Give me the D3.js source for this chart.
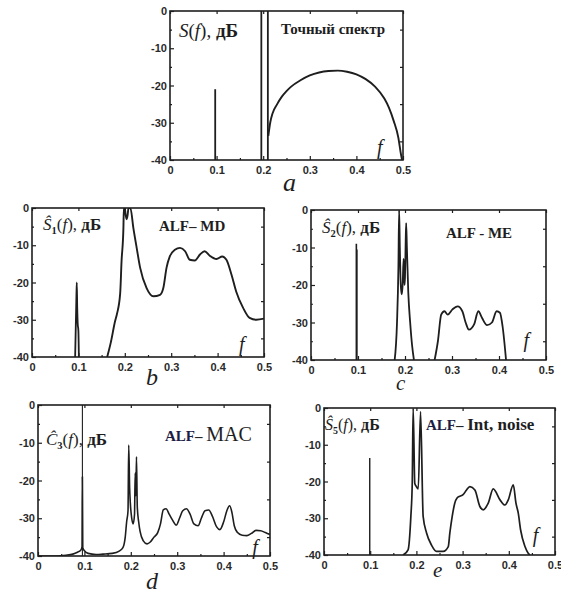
<!DOCTYPE html>
<html>
<head>
<meta charset="utf-8">
<script src="https://cdn.jsdelivr.net/npm/d3@7/dist/d3.min.js"></script>
<style>
  html, body { margin: 0; padding: 0; background: #fff; }
  svg { display: block; }
</style>
</head>
<body>
<svg id="chart" width="561" height="593"></svg>
<script>
// ---- shared axis values ----
const xTicks = [0, 0.1, 0.2, 0.3, 0.4, 0.5];
const xTickLabels = ["0", "0.1", "0.2", "0.3", "0.4", "0.5"];
const yTicks = [0, -10, -20, -30, -40];
const yTickLabels = ["0", "-10", "-20", "-30", "-40"];

// ---- a: exact spectrum ----
const aSpikes = [[0.097, -21], [0.196, 0], [0.21, 0]];           // [f, dB top]
const aCurve = [[0.211, -33.5], [0.215, -30], [0.22, -27.5], [0.23, -25], [0.24, -23],
  [0.25, -21.5], [0.26, -20.3], [0.28, -18.6], [0.30, -17.3], [0.32, -16.5], [0.34, -16.1],
  [0.36, -16], [0.38, -16.3], [0.40, -17], [0.42, -18.3], [0.44, -20.3], [0.46, -23.5],
  [0.47, -26], [0.48, -29.5], [0.49, -34], [0.495, -38], [0.498, -40]];

// ---- b: ALF-MD ----
const bCurve = [[0.093, -40], [0.0955, -25], [0.0965, -20], [0.0975, -27], [0.0985, -31],
  [0.1, -33], [0.101, -40]];
const bCurve2 = [[0.162, -40], [0.17, -36], [0.179, -30.4], [0.183, -28.5], [0.19, -23],
  [0.193, -14.3], [0.197, -5.4], [0.198, 0], [0.2, 0], [0.202, -2], [0.204, -3], [0.206, -2],
  [0.208, 0], [0.212, 0], [0.2185, -5.4], [0.2256, -10.7], [0.233, -16], [0.247, -21.5],
  [0.2615, -23.7], [0.276, -23.3], [0.283, -21.5], [0.29, -16], [0.297, -13], [0.308, -11.2],
  [0.319, -10.7], [0.33, -11.6], [0.34, -13.9], [0.351, -14.1], [0.362, -12.5], [0.372, -11.6],
  [0.383, -12.8], [0.3976, -13.7], [0.41, -13], [0.419, -13.9], [0.43, -17.9], [0.44, -22.4],
  [0.455, -26.8], [0.469, -29.5], [0.4835, -30], [0.5, -29.7]];

// ---- c: ALF-ME ----
const cSpikes = [[0.0965, -9], [0.0975, -10.5]];
const cCurve = [[0.178, -40], [0.183, -30], [0.186, -15], [0.1875, 0], [0.189, -10],
  [0.191, -20], [0.193, -22.5], [0.195, -20], [0.197, -13], [0.199, -20], [0.2, -18],
  [0.2015, -8], [0.2025, -3.5], [0.204, -10], [0.207, -22], [0.211, -30], [0.215, -36],
  [0.219, -40]];
const cCurve2 = [[0.263, -40], [0.27, -35], [0.277, -27.9], [0.284, -27], [0.291, -27.9],
  [0.301, -26.5], [0.312, -25.7], [0.322, -27], [0.329, -30], [0.336, -31.9], [0.347, -30.5],
  [0.356, -27], [0.364, -28.8], [0.3745, -30.7], [0.385, -30], [0.395, -27], [0.402, -27.4],
  [0.408, -31.4], [0.415, -40]];

// ---- d: ALF-MAC ----
const dSpikes = [[0.0957, 0]];
const dCurve = [[0.0, -40], [0.04, -40], [0.06, -39.8], [0.075, -39.5], [0.085, -39],
  [0.092, -38.5], [0.095, -37.5], [0.0957, -19], [0.0965, -37.8], [0.1, -38.6], [0.108, -39.3],
  [0.125, -39.6], [0.14, -39.5], [0.16, -39.3], [0.175, -38.7], [0.183, -37.8], [0.188, -35],
  [0.191, -31], [0.194, -28], [0.1955, -10.6], [0.1975, -22], [0.199, -26], [0.202, -30],
  [0.205, -31.5], [0.208, -29], [0.2095, -18], [0.211, -24], [0.2122, -13.7], [0.214, -27],
  [0.217, -31], [0.22, -33.5], [0.227, -36], [0.235, -36.8], [0.242, -36.3], [0.25, -35],
  [0.258, -33.8], [0.264, -31.5], [0.27, -27.8], [0.276, -27.5], [0.283, -29], [0.29, -30.5],
  [0.298, -31.8], [0.305, -30], [0.312, -28], [0.32, -27.5], [0.328, -29], [0.336, -31.5],
  [0.345, -32], [0.352, -30], [0.36, -28], [0.368, -27.8], [0.376, -29.5], [0.385, -32.3],
  [0.392, -33], [0.4, -31], [0.407, -28], [0.413, -26.7], [0.418, -28.5], [0.423, -32],
  [0.43, -33.8], [0.44, -34.5], [0.45, -34.6], [0.46, -34], [0.47, -33.2], [0.48, -33.3],
  [0.49, -33.8], [0.5, -34.3]];

// ---- e: ALF-Int, noise ----
const eSpikes = [[0.099, -13.6]];
const eCurve = [[0.171, -40], [0.182, -38.6], [0.188, -29.5], [0.191, -20.5], [0.193, 0],
  [0.1965, -20.5], [0.2, -21.4], [0.204, -22], [0.209, -1], [0.2146, -29.5], [0.222, -34],
  [0.2327, -37.3], [0.2435, -39], [0.258, -39], [0.269, -37.7], [0.2724, -34], [0.2775, -29.5],
  [0.283, -25.9], [0.288, -24.5], [0.294, -24], [0.301, -23.6], [0.3085, -22.3], [0.3157, -21.4],
  [0.3266, -22.3], [0.3374, -26.8], [0.3447, -27.7], [0.3555, -25.9], [0.3663, -22],
  [0.381, -25], [0.3916, -26.4], [0.3988, -25], [0.4097, -20.9], [0.4155, -25.9],
  [0.4205, -28.6], [0.4256, -33.2], [0.435, -37.7], [0.442, -39.5], [0.4458, -40]];

const svg = d3.select("#chart");
const ink = "#1e1e1e";
const serif = "'Liberation Serif', 'DejaVu Serif', serif";
const sans = "'Liberation Sans', Arial, sans-serif";

function panel(id, box) {
  const x = d3.scaleLinear().domain([0, 0.5]).range([box.x0, box.x1]);
  const y = d3.scaleLinear().domain([-40, 0]).range([box.y1, box.y0]);
  const g = svg.append("g");

  g.append("clipPath").attr("id", "clip-" + id)
    .append("rect").attr("x", box.x0).attr("y", box.y0)
    .attr("width", box.x1 - box.x0).attr("height", box.y1 - box.y0);

  const minorX = d3.range(0.05, 0.5, 0.1);
  const minorY = [-5, -15, -25, -35];

  // inward ticks on all four sides
  const bottom = d3.axisBottom(x).tickValues(xTicks)
    .tickFormat((d, i) => xTickLabels[i]).tickSizeInner(-4).tickSizeOuter(0).tickPadding(6);
  const left = d3.axisLeft(y).tickValues(yTicks)
    .tickFormat((d, i) => yTickLabels[i]).tickSizeInner(-4).tickSizeOuter(0).tickPadding(3);
  const top = d3.axisTop(x).tickValues(xTicks).tickFormat("").tickSizeInner(-3).tickSizeOuter(0);
  const right = d3.axisRight(y).tickValues(minorY).tickFormat("").tickSizeInner(-3).tickSizeOuter(0);
  const bottomMinor = d3.axisBottom(x).tickValues(minorX).tickFormat("").tickSizeInner(-2).tickSizeOuter(0);
  const leftMinor = d3.axisLeft(y).tickValues(minorY).tickFormat("").tickSizeInner(-2).tickSizeOuter(0);

  const axes = [
    [bottom, `translate(0,${box.y1})`], [left, `translate(${box.x0},0)`],
    [top, `translate(0,${box.y0})`], [right, `translate(${box.x1},0)`],
    [bottomMinor, `translate(0,${box.y1})`], [leftMinor, `translate(${box.x0},0)`]
  ];
  axes.forEach(([ax, tr]) => {
    const a = g.append("g").attr("transform", tr).call(ax);
    a.select(".domain").remove();
    a.selectAll("line").attr("stroke", ink).attr("stroke-width", 1.2);
    a.selectAll("text").attr("fill", "#2a2a2a").style("font-family", sans)
      .style("font-weight", "bold").style("font-size", "11px");
  });

  const plot = g.append("g").attr("clip-path", `url(#clip-${id})`);
  const line = d3.line().x(d => x(d[0])).y(d => y(d[1])).curve(d3.curveMonotoneX);

  g.append("rect").attr("x", box.x0).attr("y", box.y0)
    .attr("width", box.x1 - box.x0).attr("height", box.y1 - box.y0)
    .attr("fill", "none").attr("stroke", ink).attr("stroke-width", 1.6);

  return {
    curve(data, w = 1.8) {
      plot.append("path").datum(data).attr("d", line)
        .attr("fill", "none").attr("stroke", ink).attr("stroke-width", w)
        .attr("stroke-linejoin", "round");
    },
    spikes(data, w = 1.6) {
      plot.selectAll(null).data(data).enter().append("line")
        .attr("x1", d => x(d[0])).attr("x2", d => x(d[0]))
        .attr("y1", y(-40)).attr("y2", d => y(d[1]))
        .attr("stroke", ink).attr("stroke-width", w);
    },
    fLabel(f, db) {
      g.append("text").attr("x", x(f)).attr("y", y(db)).text("f")
        .style("font-family", serif).style("font-style", "italic")
        .style("font-size", "20px").attr("fill", ink);
    },
    x, y, g
  };
}

// name like  Ŝ₁(f), дБ  built from tspans
function funcLabel(px, py, size, head, sub) {
  const t = svg.append("text").attr("x", px).attr("y", py)
    .style("font-family", serif).style("font-size", size + "px").attr("fill", ink);
  t.append("tspan").text(head).style("font-style", "italic");
  if (sub) t.append("tspan").text(sub).attr("dy", size * 0.22)
    .style("font-size", (size * 0.62) + "px").style("font-weight", "bold");
  t.append("tspan").text("(").attr("dy", sub ? -size * 0.22 : 0);
  t.append("tspan").text("f").style("font-style", "italic");
  t.append("tspan").text("), ");
  t.append("tspan").text("дБ").style("font-weight", "bold");
}

function plainText(px, py, parts) {
  const t = svg.append("text").attr("x", px).attr("y", py).style("font-family", serif);
  parts.forEach(p => t.append("tspan").text(p.s)
    .style("font-size", p.size + "px").style("font-weight", p.bold ? "bold" : "normal")
    .attr("fill", p.color || ink));
}

function letter(px, py, s, size) {
  svg.append("text").attr("x", px).attr("y", py).text(s)
    .style("font-family", serif).style("font-style", "italic")
    .style("font-size", size + "px").attr("fill", ink);
}

// ---- panel a ----
const pa = panel("a", { x0: 170, x1: 403, y0: 11, y1: 160 });
pa.spikes(aSpikes, 1.8);
pa.curve(aCurve, 1.9);
pa.fLabel(0.444, -38.5);
funcLabel(179, 37, 19, "S", null);
plainText(281, 34, [{ s: "Точный спектр", size: 15, bold: true }]);
letter(283, 191, "a", 26);

// ---- panel b ----
const pb = panel("b", { x0: 32, x1: 264, y0: 208, y1: 357 });
pb.curve(bCurve, 1.8);
pb.curve(bCurve2, 1.9);
pb.fLabel(0.446, -38.5);
funcLabel(43, 230, 17, "Ŝ", "1");
plainText(159, 231, [{ s: "ALF– MD", size: 15, bold: true }]);
letter(146, 385, "b", 24);

// ---- panel c ----
const pc = panel("c", { x0: 311, x1: 546, y0: 210, y1: 360 });
pc.spikes(cSpikes, 1.6);
pc.curve(cCurve, 1.8);
pc.curve(cCurve2, 1.8);
pc.fLabel(0.452, -36.5);
funcLabel(322, 233, 17, "Ŝ", "2");
plainText(446, 238, [{ s: "ALF - ME", size: 15, bold: true }]);
letter(396, 390, "c", 21);

// ---- panel d ----
const pd = panel("d", { x0: 38, x1: 270, y0: 405, y1: 556 });
pd.spikes(dSpikes, 1.1);
pd.curve(dCurve, 1.6);
pd.fLabel(0.462, -39.5);
funcLabel(46, 445, 17, "Ĉ", "3");
plainText(165, 441, [{ s: "ALF", size: 15, bold: true, color: "#1c1c44" },
  { s: "– ", size: 15, bold: true }, { s: "MAC", size: 20, bold: false }]);
letter(146, 589, "d", 24);

// ---- panel e ----
const pe = panel("e", { x0: 324, x1: 555, y0: 408, y1: 555 });
pe.spikes(eSpikes, 1.4);
pe.curve(eCurve, 1.7);
pe.fLabel(0.452, -36.5);
funcLabel(325, 430, 16, "Ŝ", "5");
plainText(426, 430, [{ s: "ALF", size: 15, bold: true, color: "#1c1c44" },
  { s: "– ", size: 15, bold: true }, { s: "Int, noise", size: 17, bold: true }]);
letter(433, 577, "e", 21);
</script>
</body>
</html>
